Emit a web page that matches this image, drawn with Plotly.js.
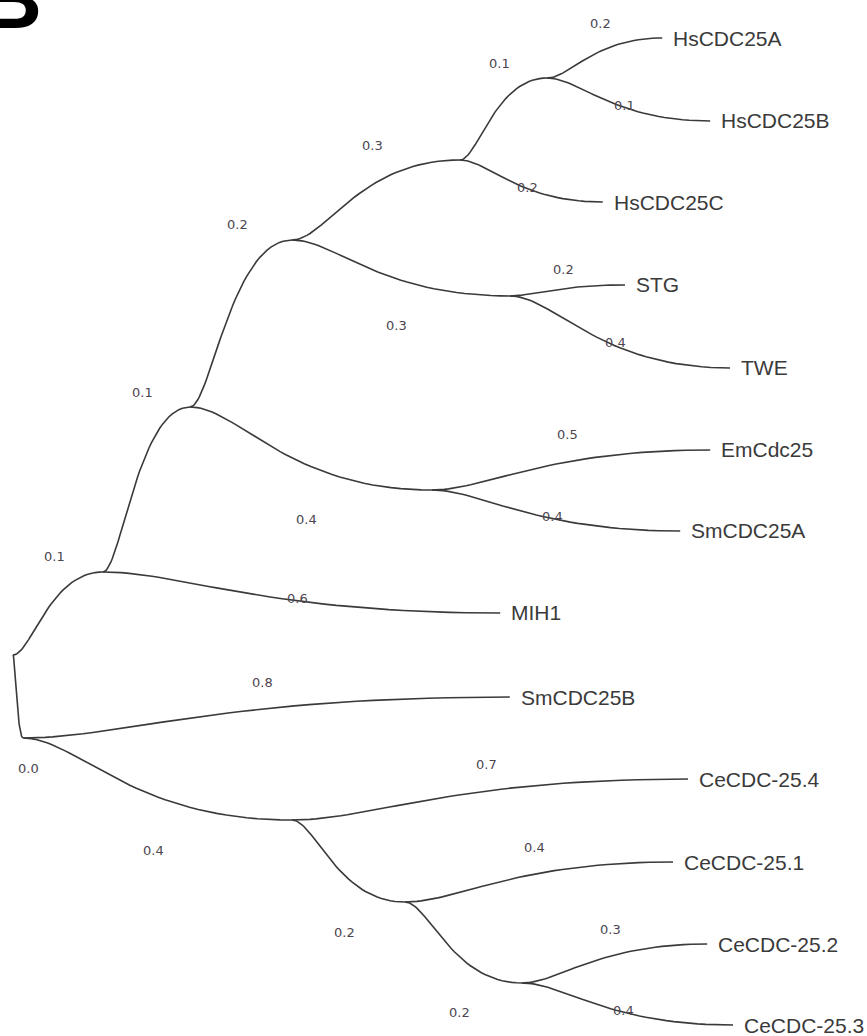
<!DOCTYPE html>
<html>
<head>
<meta charset="utf-8">
<script src="https://cdn.plot.ly/plotly-3.0.1.min.js"></script>
<style>
  html, body { margin: 0; padding: 0; background: #ffffff; }
  #chart { width: 867px; height: 1036px; }
</style>
</head>
<body>
<div id="chart"></div>
<script>
// ---- Tree data (node distance from root, vertical rank of node) ----
const nodeIds = ['root','A','R2','B','MIH1','C','D','E','F','G',
  'HsCDC25A','HsCDC25B','HsCDC25C','STG','TWE','EmCdc25','SmCDC25A',
  'SmCDC25B','H','CeCDC-25.4','I','CeCDC-25.1','J','CeCDC-25.2','CeCDC-25.3'];
const nodeParent = [-1, 0, 0, 1, 1, 3, 3, 5, 5, 7,
  9, 9, 7, 8, 8, 6, 6,
  2, 2, 18, 18, 20, 20, 22, 22];
const nodeDist = [0.000, 0.150, 0.017, 0.295, 0.812, 0.465, 0.698, 0.745, 0.828, 0.890,
  1.082, 1.162, 0.983, 1.020, 1.195, 1.162, 1.112,
  0.828, 0.465, 1.125, 0.653, 1.100, 0.848, 1.157, 1.200];
const nodeRank = [7.524, 6.512, 8.537, 4.500, 7.012, 2.463, 5.512, 1.488, 3.146, 0.488,
  0.000, 1.012, 2.000, 3.012, 4.024, 5.024, 6.012,
  8.037, 9.537, 9.037, 10.537, 10.049, 11.524, 11.049, 12.037];
const branchLabels = ['', '0.1', '0.0', '0.1', '0.6', '0.2', '0.4', '0.3', '0.3', '0.1',
  '0.2', '0.1', '0.2', '0.2', '0.4', '0.5', '0.4',
  '0.8', '0.4', '0.7', '0.2', '0.4', '0.2', '0.3', '0.4'];
const tipNames = ['', '', '', '', 'MIH1', '', '', '', '', '',
  'HsCDC25A', 'HsCDC25B', 'HsCDC25C', 'STG', 'TWE', 'EmCdc25', 'SmCDC25A',
  'SmCDC25B', '', 'CeCDC-25.4', '', 'CeCDC-25.1', '', 'CeCDC-25.2', 'CeCDC-25.3'];
const panelLetter = 'B';

// ---- Scale (pixels per data unit) ----
const W = 867, H = 1036;
const PX_X = 600, PX_Y = 82;
const X0 = 13, Y0 = 38;
const xRange = [-X0 / PX_X, (W - X0) / PX_X];
const yRange = [(H - Y0) / PX_Y, -Y0 / PX_Y];

const lineColor = '#3a3a3a';
const tipFont = {family: 'Liberation Sans, Arial, sans-serif', size: 21, color: '#3a3a3a'};
const lenFont = {family: 'DejaVu Sans, Verdana, sans-serif', size: 13, color: '#4d4650'};

// ---- Build branch curves (cubic bezier with horizontal tangents) ----
const xs = [], ys = [];
const isLeaf = nodeIds.map((_, i) => !nodeParent.includes(i));
const N = 40;
const annotations = [];
for (let i = 0; i < nodeIds.length; i++) {
  const p = nodeParent[i];
  if (p < 0) continue;
  const px = nodeDist[p], py = nodeRank[p];
  const cx = nodeDist[i], cy = nodeRank[i];
  const dx = cx - px;
  const p1x = px + 0.2 * dx, p1y = py;
  const p2x = cx - 0.6 * dx, p2y = cy;
  for (let k = 0; k <= N; k++) {
    const t = k / N, u = 1 - t;
    xs.push(u*u*u*px + 3*u*u*t*p1x + 3*u*t*t*p2x + t*t*t*cx);
    ys.push(u*u*u*py + 3*u*u*t*p1y + 3*u*t*t*p2y + t*t*t*cy);
  }
  xs.push(null); ys.push(null);

  // branch length label
  let lx = Math.max((px + cx) / 2 - 4 / PX_X, px + 15 / PX_X);
  let ly;
  if (cy < py) ly = cy - 15 / PX_Y;
  else if (isLeaf[i]) ly = py + 0.65 * (cy - py);
  else ly = cy + 30 / PX_Y;
  annotations.push({
    x: lx, y: ly, xref: 'x', yref: 'y', text: branchLabels[i],
    showarrow: false, xanchor: 'center', yanchor: 'middle', font: lenFont
  });

  if (tipNames[i]) {
    annotations.push({
      x: cx, y: cy, xref: 'x', yref: 'y', text: tipNames[i],
      showarrow: false, xanchor: 'left', yanchor: 'middle', xshift: 9,
      font: tipFont
    });
  }
}

annotations.push({
  x: 44 / W, y: 1 - 48 / H, xref: 'paper', yref: 'paper', text: '<b>' + panelLetter + '</b>',
  showarrow: false, xanchor: 'right', yanchor: 'bottom',
  font: {family: 'Liberation Sans, Arial, sans-serif', size: 86, color: '#000000'}
});

const traces = [{
  x: xs, y: ys, type: 'scatter', mode: 'lines',
  line: {color: lineColor, width: 1.6, shape: 'linear'},
  hoverinfo: 'skip', showlegend: false
}];

const layout = {
  width: W, height: H,
  margin: {l: 0, r: 0, t: 0, b: 0, pad: 0},
  paper_bgcolor: '#ffffff', plot_bgcolor: '#ffffff',
  xaxis: {range: xRange, visible: false, fixedrange: true},
  yaxis: {range: yRange, visible: false, fixedrange: true},
  showlegend: false,
  annotations: annotations
};

Plotly.newPlot('chart', traces, layout, {displayModeBar: false, staticPlot: true});
</script>
</body>
</html>
